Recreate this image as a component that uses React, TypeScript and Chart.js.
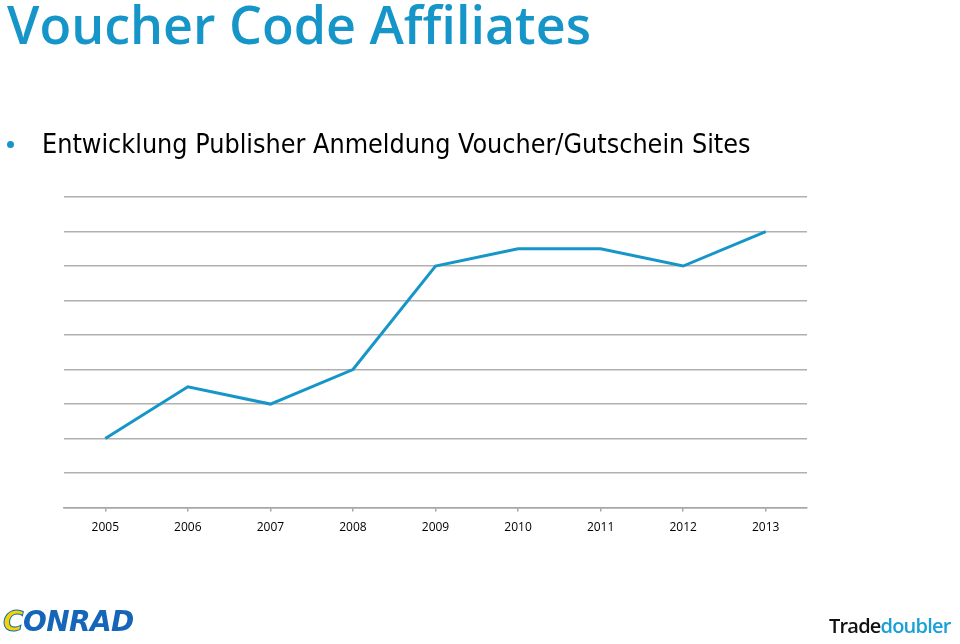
import React, { useEffect, useRef } from "react";
import { Chart, registerables } from "chart.js";

Chart.register(...registerables);

const years = ["2005", "2006", "2007", "2008", "2009", "2010", "2011", "2012", "2013"];
const registrations = [2, 3.5, 3, 4, 7, 7.5, 7.5, 7, 8];
const yMin = 0;
const yMax = 9;

const BLUE = "#1696c8";

export default function App() {
  const ref = useRef<HTMLCanvasElement | null>(null);

  useEffect(() => {
    if (!ref.current) return;
    const chart = new Chart(ref.current, {
      type: "line",
      data: {
        labels: years,
        datasets: [
          {
            data: registrations,
            borderColor: BLUE,
            borderWidth: 3,
            pointRadius: 0,
            tension: 0,
            fill: false,
          },
        ],
      },
      options: {
        responsive: false,
        animation: false,
        layout: { padding: { left: 64, right: 153, top: 197, bottom: 100 } },
        plugins: { legend: { display: false }, tooltip: { enabled: false } },
        scales: {
          x: {
            offset: true,
            grid: {
              drawOnChartArea: false,
              drawTicks: true,
              tickLength: 4,
              color: "#a6a6a6",
              lineWidth: 1.5,
            },
            border: { display: true, color: "#a6a6a6", width: 1.5 },
            ticks: {
              color: "#000",
              font: { family: "'Open Sans', sans-serif", size: 12 },
              padding: 9,
            },
          },
          y: {
            min: yMin,
            max: yMax,
            ticks: { display: false, stepSize: 1 },
            grid: { color: "#b0b0b0", lineWidth: 1.5, drawTicks: false },
            border: { display: false },
          },
        },
      },
    });
    return () => chart.destroy();
  }, []);

  return (
    <div style={{ position: "absolute", left: 0, top: 0, width: 960, height: 644, background: "#fff", overflow: "hidden" }}>
      <canvas ref={ref} width={960} height={644} style={{ position: "absolute", left: 0, top: 0 }} />
      <div
        style={{
          position: "absolute",
          left: 7,
          top: -12,
          fontFamily: "'Open Sans', sans-serif",
          fontWeight: 600,
          fontSize: 52,
          color: BLUE,
          whiteSpace: "nowrap",
          lineHeight: "72px",
        }}
      >
        Voucher Code Affiliates
      </div>
      <div
        style={{
          position: "absolute",
          left: 7,
          top: 141,
          width: 7,
          height: 7,
          borderRadius: "50%",
          background: BLUE,
        }}
      />
      <div
        style={{
          position: "absolute",
          left: 42,
          top: 124,
          fontFamily: "'DejaVu Sans Condensed', 'DejaVu Sans', sans-serif",
          fontSize: 26.7,
          color: "#000",
          whiteSpace: "nowrap",
          lineHeight: "40px",
        }}
      >
        Entwicklung Publisher Anmeldung Voucher/Gutschein Sites
      </div>
      <div
        style={{
          position: "absolute",
          left: 3,
          top: 603,
          fontFamily: "'DejaVu Sans', sans-serif",
          fontWeight: 900,
          fontStyle: "italic",
          fontSize: 28,
          color: "#1565b8",
          whiteSpace: "nowrap",
          lineHeight: "38px",
          letterSpacing: -0.6,
        }}
      >
        <span style={{ color: "#f2d500", WebkitTextStroke: "1px #1565b8" }}>C</span>ONRAD
      </div>
      <div
        style={{
          position: "absolute",
          left: 829,
          top: 612,
          fontFamily: "'Open Sans', sans-serif",
          fontWeight: 600,
          fontSize: 20,
          whiteSpace: "nowrap",
          lineHeight: "28px",
          letterSpacing: -0.8,
        }}
      >
        <span style={{ color: "#111" }}>Trade</span>
        <span style={{ color: "#1aa0d8" }}>doubler</span>
      </div>
    </div>
  );
}
